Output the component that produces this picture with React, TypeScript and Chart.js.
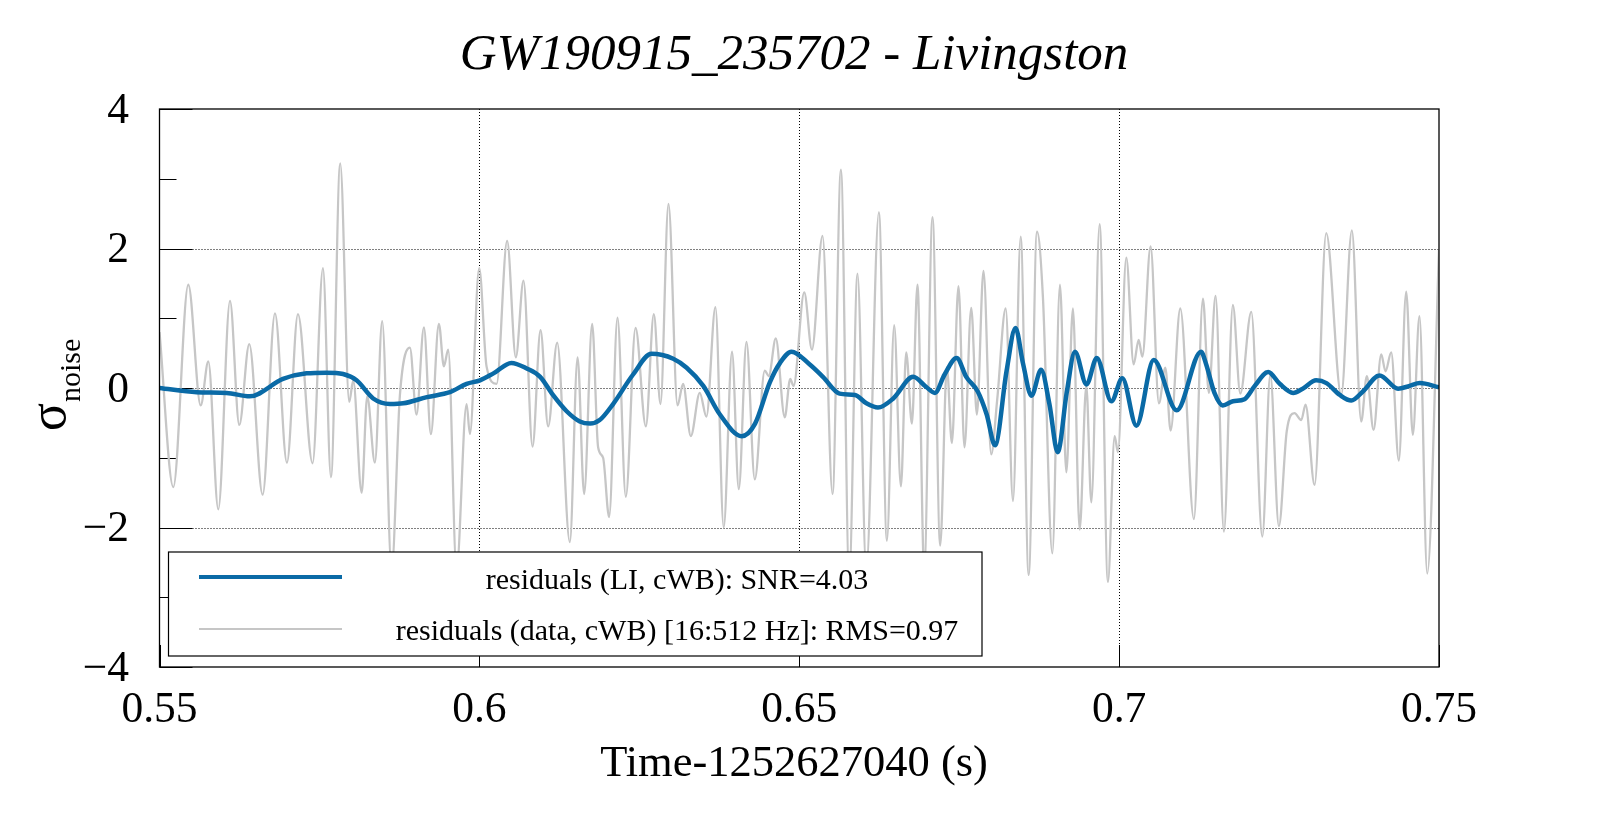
import React, { useEffect, useRef } from 'react';
import { Chart, registerables } from 'chart.js';

Chart.register(...registerables);

const chartTitle = 'GW190915_235702 - Livingston';
const xAxisTitle = 'Time-1252627040 (s)';
const yAxisSymbol = '\u03c3';
const yAxisSubscript = 'noise';
const legendLabels = ['residuals (LI, cWB): SNR=4.03', 'residuals (data, cWB) [16:512 Hz]: RMS=0.97'];

const xTickValues = [0.55, 0.6, 0.65, 0.7, 0.75];
const xTickLabels = ['0.55', '0.6', '0.65', '0.7', '0.75'];
const yTickValues = [-4, -2, 0, 2, 4];
const yTickLabels = ['\u22124', '\u22122', '0', '2', '4'];
const yMinorTicks = [-3, -1, 1, 3];

// residuals (data, cWB): local extrema of the whitened data residual
const dataTime = [
  0.55, 0.55216, 0.5545, 0.55644, 0.55763, 0.55919, 0.56102, 0.56247, 0.56403, 0.56612,
  0.56805, 0.56992, 0.57164, 0.57393, 0.57555, 0.5768, 0.57825, 0.57966, 0.58028, 0.5816,
  0.58247, 0.58367, 0.58481, 0.58628, 0.58758, 0.58914, 0.59018, 0.59133, 0.59242, 0.59367,
  0.59445, 0.59513, 0.59643, 0.598, 0.59852, 0.59997, 0.60112, 0.60269, 0.60434, 0.6057,
  0.6069, 0.60831, 0.60956, 0.61075, 0.61216, 0.61414, 0.61535, 0.61638, 0.61763, 0.61856,
  0.61934, 0.62028, 0.62159, 0.62289, 0.62441, 0.62602, 0.62727, 0.62831, 0.62956, 0.63097,
  0.63184, 0.63305, 0.63445, 0.63549, 0.6369, 0.63819, 0.63949, 0.64055, 0.64175, 0.64305,
  0.64461, 0.64523, 0.64633, 0.64773, 0.64859, 0.64911, 0.65078, 0.65198, 0.65364, 0.6552,
  0.65651, 0.65781, 0.65911, 0.66047, 0.66245, 0.6637, 0.66484, 0.66589, 0.66672, 0.66761,
  0.66848, 0.66953, 0.67083, 0.67203, 0.67308, 0.67386, 0.67489, 0.67583, 0.67688, 0.67777,
  0.6788, 0.68, 0.68095, 0.68227, 0.68341, 0.68461, 0.68586, 0.68716, 0.68809, 0.68956,
  0.69075, 0.69175, 0.69278, 0.69383, 0.69487, 0.69566, 0.69695, 0.69825, 0.6993, 0.69981,
  0.70112, 0.70227, 0.70305, 0.70363, 0.70492, 0.70622, 0.70722, 0.70805, 0.70956, 0.71169,
  0.7131, 0.71403, 0.71508, 0.71638, 0.71778, 0.71894, 0.72066, 0.72238, 0.72363, 0.72497,
  0.7262, 0.72742, 0.72847, 0.72914, 0.73055, 0.73237, 0.73472, 0.73638, 0.73784, 0.73872,
  0.73977, 0.74097, 0.74164, 0.74253, 0.74372, 0.74487, 0.74591, 0.74695, 0.74816, 0.75,
];
const dataValue = [
  0.8, -1.42, 1.48, -0.25, 0.38, -1.74, 1.25, -0.53, 0.63, -1.53,
  1.07, -1.07, 1.06, -1.08, 1.72, -1.28, 3.22, -0.2, 0.11, -1.5,
  -0.12, -1.07, 0.96, -2.6, -0.1, 0.58, -0.38, 0.87, -0.66, 0.92,
  0.31, 0.55, -2.6, -0.23, -0.66, 1.72, 0.31, 0.06, 2.11, 0.44,
  1.54, -0.84, 0.83, -0.55, 0.65, -2.21, 0.44, -1.52, 0.92, -0.85,
  -1.0, -1.85, 1.01, -1.56, 0.86, -0.55, 1.06, -0.23, 2.64, -0.25,
  0.06, -0.69, -0.07, -0.41, 1.16, -2.0, 0.52, -1.45, 0.66, -1.31,
  0.25, 0.17, 0.71, -0.42, 0.13, 0.03, 1.37, 0.55, 2.18, -1.52,
  3.13, -2.7, 1.64, -2.6, 2.52, -2.19, 0.9, -1.41, 0.51, -0.51,
  1.48, -2.6, 2.45, -2.26, 0.3, -0.79, 1.46, -0.85, 1.15, -0.38,
  1.68, -0.95, -0.16, 1.14, -1.62, 2.17, -2.68, 2.24, 1.3, -2.37,
  1.48, -1.21, 1.14, -2.03, 0.03, -1.64, 2.35, -2.78, -0.69, -0.92,
  1.87, 0.34, 0.69, 0.45, 2.03, -0.22, 0.29, -0.61, 1.14, -1.88,
  1.28, -0.07, 1.32, -2.06, 1.19, -0.08, 1.09, -2.13, 0.19, -1.98,
  -0.62, -0.36, -0.46, -0.24, -1.39, 2.22, -0.1, 2.26, -0.48, 0.17,
  -0.6, 0.48, 0.24, 0.51, -1.04, 1.38, -0.67, 1.03, -2.66, 1.99,
];

// residuals (LI, cWB)
const liTime = [
  0.55, 0.5558, 0.5605, 0.5641, 0.5693, 0.573, 0.5761, 0.5787, 0.5808, 0.5834,
  0.586, 0.5881, 0.5918, 0.5954, 0.598, 0.6001, 0.6022, 0.605, 0.6074, 0.6095,
  0.6115, 0.6136, 0.6157, 0.6173, 0.6188, 0.6209, 0.624, 0.6269, 0.6303, 0.6324,
  0.635, 0.6376, 0.641, 0.6431, 0.6454, 0.647, 0.6488, 0.6516, 0.6537, 0.6563,
  0.6587, 0.6605, 0.6623, 0.6647, 0.6678, 0.6699, 0.6712, 0.6727, 0.6746, 0.6761,
  0.6779, 0.6793, 0.6806, 0.6824, 0.6838, 0.685, 0.6863, 0.6878, 0.6891, 0.6904,
  0.6918, 0.6931, 0.6949, 0.6965, 0.6988, 0.7005, 0.7027, 0.7054, 0.709, 0.7128,
  0.7136, 0.7149, 0.7162, 0.7178, 0.7196, 0.7212, 0.7233, 0.7251, 0.7272, 0.7287,
  0.7308, 0.7324, 0.7345, 0.7363, 0.7381, 0.7407, 0.7436, 0.7454, 0.747, 0.75,
];
const liValue = [
  0.0, -0.06, -0.07, -0.12, 0.13, 0.21, 0.22, 0.2, 0.11, -0.15,
  -0.23, -0.22, -0.13, -0.06, 0.06, 0.11, 0.21, 0.36, 0.28, 0.16,
  -0.1, -0.33, -0.48, -0.51, -0.46, -0.23, 0.19, 0.49, 0.42, 0.29,
  0.03, -0.38, -0.69, -0.51, 0.08, 0.36, 0.52, 0.34, 0.16, -0.08,
  -0.1, -0.22, -0.28, -0.15, 0.16, 0.01, -0.07, 0.19, 0.43, 0.16,
  -0.05, -0.38, -0.82, 0.24, 0.86, 0.34, -0.11, 0.26, -0.23, -0.92,
  -0.07, 0.52, 0.05, 0.43, -0.19, 0.14, -0.54, 0.4, -0.32, 0.52,
  0.34, -0.07, -0.25, -0.19, -0.16, 0.03, 0.23, 0.06, -0.07, -0.01,
  0.11, 0.07, -0.1, -0.18, -0.05, 0.18, -0.01, 0.03, 0.07, 0.01,
];

const BLUE = '#0a6aa6';
const GREY = '#c6c6c6';
const SERIF = '"Liberation Serif", "Times New Roman", serif';

const decorPlugin = {
  id: 'decor',
  beforeDatasetsDraw(chart: any) {
    const { ctx, chartArea: a, scales } = chart;
    const xs = scales.x;
    const ys = scales.y;
    ctx.save();
    ctx.strokeStyle = '#000';
    ctx.lineWidth = 1;
    ctx.setLineDash([1, 2]);
    ctx.beginPath();
    for (const v of yTickValues) {
      if (v <= ys.min || v >= ys.max) continue;
      const py = Math.round(ys.getPixelForValue(v)) + 0.5;
      ctx.moveTo(a.left, py);
      ctx.lineTo(a.right, py);
    }
    for (const v of xTickValues) {
      if (v <= xs.min || v >= xs.max) continue;
      const px = Math.round(xs.getPixelForValue(v)) + 0.5;
      ctx.moveTo(px, a.top);
      ctx.lineTo(px, a.bottom);
    }
    ctx.stroke();
    ctx.setLineDash([]);
    ctx.beginPath();
    for (const v of yTickValues) {
      const py = Math.round(ys.getPixelForValue(v)) + 0.5;
      ctx.moveTo(a.left, py);
      ctx.lineTo(a.left + 33, py);
    }
    for (const v of yMinorTicks) {
      const py = Math.round(ys.getPixelForValue(v)) + 0.5;
      ctx.moveTo(a.left, py);
      ctx.lineTo(a.left + 17, py);
    }
    for (const v of xTickValues) {
      const px = Math.round(xs.getPixelForValue(v)) + 0.5;
      ctx.moveTo(px, a.bottom);
      ctx.lineTo(px, a.bottom - 22);
    }
    ctx.stroke();
    ctx.restore();
  },
  afterDatasetsDraw(chart: any) {
    const { ctx, chartArea: a } = chart;
    ctx.save();
    // legend box
    const bx = 168.5, by = 552, bw = 813.5, bh = 104;
    ctx.fillStyle = '#fff';
    ctx.fillRect(bx, by, bw, bh);
    ctx.strokeStyle = '#000';
    ctx.lineWidth = 1.2;
    ctx.strokeRect(bx, by, bw, bh);
    ctx.lineCap = 'butt';
    ctx.strokeStyle = BLUE;
    ctx.lineWidth = 4;
    ctx.beginPath();
    ctx.moveTo(199, 577);
    ctx.lineTo(342, 577);
    ctx.stroke();
    ctx.strokeStyle = GREY;
    ctx.lineWidth = 2;
    ctx.beginPath();
    ctx.moveTo(199, 629);
    ctx.lineTo(342, 629);
    ctx.stroke();
    ctx.fillStyle = '#000';
    ctx.font = `30px ${SERIF}`;
    ctx.textAlign = 'center';
    ctx.textBaseline = 'alphabetic';
    ctx.fillText(legendLabels[0], 677, 589);
    ctx.fillText(legendLabels[1], 677, 640);
    // frame
    ctx.strokeStyle = '#000';
    ctx.lineWidth = 1.3;
    ctx.strokeRect(a.left, a.top, a.right - a.left, a.bottom - a.top);
    ctx.restore();
  },
  afterDraw(chart: any) {
    const { ctx } = chart;
    ctx.save();
    ctx.fillStyle = '#000';
    ctx.textBaseline = 'alphabetic';
    ctx.textAlign = 'center';
    ctx.font = `italic 51px ${SERIF}`;
    ctx.fillText(chartTitle, 794, 69);
    ctx.font = `44.5px ${SERIF}`;
    ctx.fillText(xAxisTitle, 794, 776);
    // y axis title, rotated
    ctx.translate(65, 431);
    ctx.rotate(-Math.PI / 2);
    ctx.textAlign = 'left';
    ctx.font = `52px ${SERIF}`;
    ctx.fillText(yAxisSymbol, 0, 0);
    const w = ctx.measureText(yAxisSymbol).width;
    ctx.font = `30px ${SERIF}`;
    ctx.fillText(yAxisSubscript, w + 1, 15);
    ctx.restore();
  },
};

export default function App() {
  const canvasRef = useRef<HTMLCanvasElement | null>(null);

  useEffect(() => {
    const canvas = canvasRef.current;
    if (!canvas) return;
    const liPoints = liTime.map((t, i) => ({ x: t, y: liValue[i] }));
    const dataPoints = dataTime.map((t, i) => ({ x: t, y: dataValue[i] }));
    const chart = new Chart(canvas, {
      type: 'line',
      data: {
        datasets: [
          {
            label: legendLabels[0],
            data: liPoints,
            borderColor: BLUE,
            borderWidth: 4.5,
            pointRadius: 0,
            cubicInterpolationMode: 'monotone',
            fill: false,
            clip: 0,
          },
          {
            label: legendLabels[1],
            data: dataPoints,
            borderColor: GREY,
            borderWidth: 2.3,
            pointRadius: 0,
            cubicInterpolationMode: 'monotone',
            fill: false,
            clip: 0,
          },
        ],
      },
      options: {
        animation: false,
        responsive: false,
        devicePixelRatio: 1,
        events: [],
        layout: { padding: { left: 0, top: 109, right: 160, bottom: 0 } },
        plugins: {
          legend: { display: false },
          title: { display: false },
          tooltip: { enabled: false },
        },
        scales: {
          x: {
            type: 'linear',
            min: 0.55,
            max: 0.75,
            grid: { display: false },
            border: { display: false },
            afterBuildTicks: (s: any) => {
              s.ticks = xTickValues.map((v) => ({ value: v }));
            },
            afterFit: (s: any) => {
              s.height = 146;
            },
            ticks: {
              autoSkip: false,
              maxRotation: 0,
              padding: 9,
              color: '#000',
              font: { family: SERIF, size: 43.5 },
              callback: (v: any) => xTickLabels[xTickValues.indexOf(v)] ?? '',
            },
          },
          y: {
            type: 'linear',
            min: -4,
            max: 4,
            grid: { display: false },
            border: { display: false },
            afterBuildTicks: (s: any) => {
              s.ticks = yTickValues.map((v) => ({ value: v }));
            },
            afterFit: (s: any) => {
              s.width = 159.5;
            },
            ticks: {
              autoSkip: false,
              padding: 22.5,
              labelOffset: 2.5,
              color: '#000',
              font: { family: SERIF, size: 43.5 },
              callback: (v: any) => yTickLabels[yTickValues.indexOf(v)] ?? '',
            },
          },
        },
      },
      plugins: [decorPlugin],
    } as any);
    return () => chart.destroy();
  }, []);

  return (
    <div style={{ position: 'absolute', left: 0, top: 0, width: 1599, height: 813, background: '#fff' }}>
      <canvas ref={canvasRef} width={1599} height={813} style={{ width: 1599, height: 813 }} />
    </div>
  );
}
